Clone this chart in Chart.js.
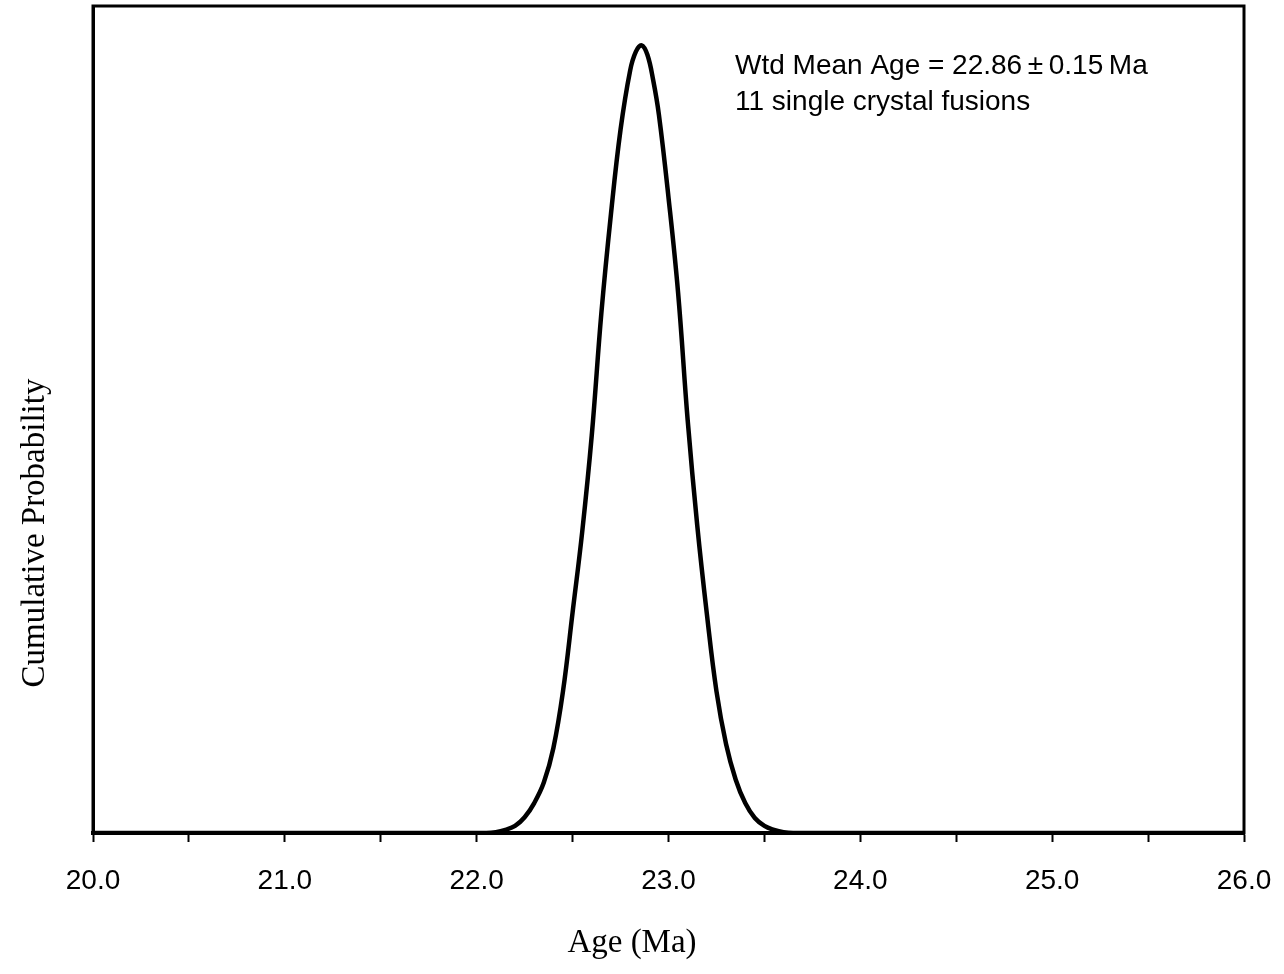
<!DOCTYPE html>
<html>
<head>
<meta charset="utf-8">
<title>Cumulative Probability</title>
<script src="https://cdn.jsdelivr.net/npm/chart.js@4/dist/chart.umd.min.js"></script>
<style>
    html, body { margin: 0; padding: 0; background: #fff; }
    #wrap { width: 1284px; height: 974px; }
</style>
</head>
<body>
<div id="wrap"><canvas id="probChart"></canvas></div>
<script>
// ages (Ma) and relative probability
const ages = [20.0, 22.05, 22.10, 22.15, 22.20, 22.25, 22.30, 22.35, 22.40, 22.45, 22.50, 22.55, 22.60, 22.65,
    22.70, 22.75, 22.80, 22.83, 22.86, 22.89, 22.92, 22.95, 23.00, 23.05, 23.10, 23.15, 23.20, 23.25, 23.30,
    23.35, 23.40, 23.45, 23.50, 23.55, 23.60, 23.65, 26.0];
const probability = [0, 0, 0.001, 0.004, 0.009, 0.020, 0.038, 0.064, 0.108, 0.180, 0.280, 0.382, 0.505, 0.660,
    0.786, 0.893, 0.968, 0.992, 1.0, 0.988, 0.956, 0.912, 0.807, 0.686, 0.524, 0.390, 0.278, 0.180, 0.113,
    0.068, 0.038, 0.019, 0.009, 0.004, 0.001, 0, 0];
const xTicks = [20.0, 21.0, 22.0, 23.0, 24.0, 25.0, 26.0];
const noteLines = ['Wtd Mean Age = 22.86\u2009\u00b1\u20090.15\u2009Ma', '11 single crystal fusions'];

const sansFont = 'Arial, "Liberation Sans", sans-serif';
const serifFont = '"Times New Roman", "Liberation Serif", serif';

// frame, axis titles and the note text
const decorPlugin = {
    id: 'decor',
    afterDraw(chart) {
        const ctx = chart.ctx;
        const area = chart.chartArea;
        ctx.save();
        ctx.strokeStyle = '#000';
        ctx.lineWidth = 3;
        ctx.strokeRect(area.left, area.top, area.right - area.left, area.bottom - area.top);

        ctx.fillStyle = '#000';
        ctx.font = '28px ' + sansFont;
        ctx.textAlign = 'left';
        ctx.textBaseline = 'alphabetic';
        ctx.fillText(noteLines[0], 735, 74);
        ctx.fillText(noteLines[1], 735, 110);

        ctx.font = '33px ' + serifFont;
        ctx.textAlign = 'center';
        ctx.textBaseline = 'middle';
        ctx.fillText('Age (Ma)', 632, 943);

        ctx.translate(35, 533);
        ctx.rotate(-Math.PI / 2);
        ctx.fillText('Cumulative Probability', 0, 0);
        ctx.restore();
    }
};

const ctx = document.getElementById('probChart').getContext('2d');
new Chart(ctx, {
    type: 'line',
    data: {
        datasets: [{
            data: ages.map((a, i) => ({ x: a, y: probability[i] })),
            borderColor: '#000',
            borderWidth: 4.5,
            pointRadius: 0,
            tension: 0.4,
            fill: false
        }]
    },
    options: {
        responsive: true,
        maintainAspectRatio: false,
        animation: false,
        layout: { padding: { top: 6, right: 40, left: 0, bottom: 0 } },
        plugins: {
            legend: { display: false },
            tooltip: { enabled: false }
        },
        scales: {
            x: {
                type: 'linear',
                min: 20,
                max: 26,
                afterFit(scale) {
                    scale.height = 141;
                    scale.paddingLeft = 0;
                    scale.paddingRight = 0;
                },
                afterBuildTicks(scale) {
                    const t = [];
                    for (let i = 0; i < xTicks.length; i++) {
                        t.push({ value: xTicks[i] });
                        if (i < xTicks.length - 1) t.push({ value: xTicks[i] + 0.5 });
                    }
                    scale.ticks = t;
                },
                ticks: {
                    color: '#000',
                    font: { family: sansFont, size: 28 },
                    padding: 22,
                    maxRotation: 0,
                    autoSkip: false,
                    callback: v => xTicks.includes(v) ? v.toFixed(1) : ''
                },
                grid: {
                    drawOnChartArea: false,
                    drawTicks: true,
                    tickLength: 9,
                    tickWidth: 2,
                    tickColor: '#000'
                },
                border: { display: true, color: '#000', width: 4 }
            },
            y: {
                min: 0,
                max: 1.05,
                afterFit(scale) { scale.width = 93; },
                ticks: { display: false },
                grid: { display: false },
                border: { display: true, color: '#000', width: 3 }
            }
        }
    },
    plugins: [decorPlugin]
});
</script>
</body>
</html>
